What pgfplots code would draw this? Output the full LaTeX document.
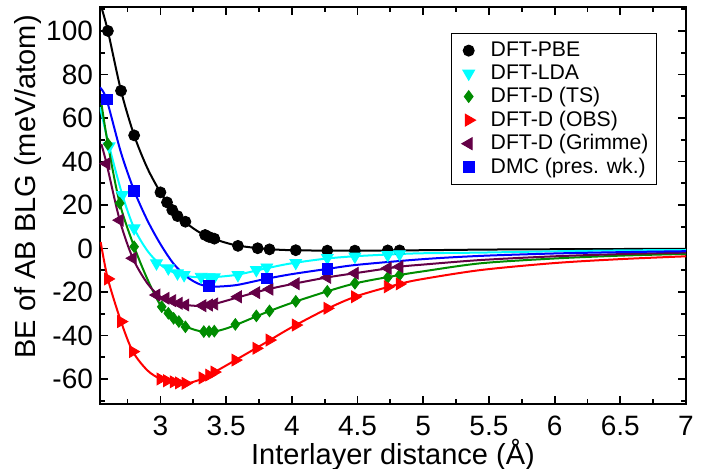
\documentclass[border=0pt]{standalone}
\usepackage{pgfplots}
\pgfplotsset{compat=1.18}
\usepackage{fontspec}
\setmainfont{Liberation Sans}
\definecolor{cyanc}{RGB}{0,255,255}
\definecolor{greenc}{RGB}{0,140,0}
\definecolor{purplec}{RGB}{100,0,70}
\definecolor{bluec}{RGB}{0,0,255}
\definecolor{redc}{RGB}{255,0,0}
\begin{document}
\begin{tikzpicture}
\begin{axis}[name=ax, scale only axis, width=293pt, height=198.5pt,
  xmin=2.54, xmax=7, ymin=-71.5, ymax=111,
  xtick={3,3.5,4,4.5,5,5.5,6,6.5,7},
  minor xtick={2.75,3.25,3.75,4.25,4.75,5.25,5.75,6.25,6.75},
  ytick={-60,-40,-20,0,20,40,60,80,100},
  minor ytick={-70,-50,-30,-10,10,30,50,70,90,110},
  tick align=inside, major tick length=4.2pt, minor tick length=2.4pt,
  axis line style={line width=1pt}, every tick/.style={line width=0.9pt, black},
  /pgf/number format/assume math mode=true,
  tick label style={font=\fontsize{14}{16}\selectfont},
  xticklabel style={yshift=-2.5pt},
  label style={font=\fontsize{14.5}{17}\selectfont},
  xlabel={Interlayer distance (Å)},
  ylabel={BE of AB BLG (meV/atom)},
  xlabel style={at={(axis description cs:0.5,-0.128)}, anchor=center},
  ylabel style={at={(axis description cs:-0.123,0.547)}, anchor=center},
  legend style={at={(0.9505,0.9337)}, anchor=north east, draw=black, line width=0.5pt,
    font=\fontsize{10.6}{12.5}\selectfont, cells={anchor=west}, row sep=-1.4pt,
    inner xsep=2pt, inner ysep=2pt},
  legend cell align=left,
  legend image code/.code={\path[draw=none,fill=none] (0pt,0pt) -- (15.5pt,0pt); \draw[#1] plot coordinates {(6.5pt,0pt)};},
]
% ---------- DFT-PBE ----------
\addplot[black, line width=1pt, smooth, forget plot] coordinates {
(2.55,111)(2.6,100)(2.7,72.5)(2.8,52)(2.9,37)(3.0,25.8)(3.1,17)(3.2,11.5)(3.3,7.3)(3.4,4.6)(3.5,2.6)(3.6,1.2)(3.8,-0.2)(4.0,-0.8)(4.3,-1.0)(4.6,-1.0)(5.0,-0.8)(5.5,-0.5)(6.0,-0.35)(6.5,-0.25)(7.0,-0.15)};
\addplot[only marks, mark=*, mark size=2.75pt, black] coordinates {
(2.6,100)(2.7,72.5)(2.8,52)(3.0,25.8)(3.05,21.2)(3.09,17.7)(3.13,14.9)(3.19,12.3)(3.34,6.2)(3.37,5.3)(3.41,4.5)(3.59,1.2)(3.74,0.1)(3.83,-0.4)(4.03,-0.8)(4.27,-1.0)(4.48,-1.0)(4.73,-0.9)(4.82,-0.9)};
\addlegendentry{DFT-PBE}
% ---------- DFT-LDA ----------
\addplot[cyanc, line width=1pt, smooth, forget plot] coordinates {
(2.54,65)(2.61,47)(2.71,24.6)(2.8,9.3)(2.9,-1)(3.0,-7.5)(3.1,-11)(3.2,-12.7)(3.3,-13.3)(3.4,-13.2)(3.5,-12.7)(3.6,-11.9)(3.8,-9.2)(4.0,-6.8)(4.27,-4.6)(4.5,-3.5)(4.8,-2.6)(5.0,-2.2)(5.44,-1.9)(6.0,-1.3)(6.5,-0.9)(7.0,-0.7)};
\addplot[only marks, mark=triangle*, mark options={rotate=180}, mark size=3.4pt, cyanc] coordinates {
(2.61,47)(2.71,24.6)(2.80,9.3)(2.97,-6.8)(3.06,-9.1)(3.13,-11.4)(3.18,-12.2)(3.31,-13)(3.37,-13.2)(3.41,-13.2)(3.59,-12.2)(3.73,-9.9)(3.81,-8.7)(4.03,-6.6)(4.27,-4.3)(4.48,-3.7)(4.73,-3.0)(4.82,-2.6)};
\addlegendentry{DFT-LDA}
% ---------- DFT-D (TS) ----------
\addplot[greenc, line width=1pt, smooth, forget plot] coordinates {
(2.55,67)(2.6,48)(2.69,20.8)(2.8,0.8)(2.9,-14)(3.0,-26)(3.1,-32)(3.2,-36)(3.3,-38)(3.4,-38.3)(3.5,-36.8)(3.6,-34.5)(3.8,-29.5)(4.0,-25)(4.27,-19.7)(4.5,-15.8)(4.82,-12.2)(5.0,-10.5)(5.44,-6.8)(6.0,-4.6)(6.5,-3.3)(7.0,-2.5)};
\addplot[only marks, mark=diamond*, mark size=2.9pt, greenc] coordinates {
(2.6,48)(2.69,20.8)(2.80,0.8)(3.01,-26.8)(3.06,-29.8)(3.10,-32.1)(3.14,-33.6)(3.19,-36)(3.33,-38.2)(3.37,-38.2)(3.41,-38)(3.57,-34.9)(3.73,-31)(3.83,-28.7)(4.03,-24.3)(4.27,-19.7)(4.48,-16)(4.73,-13.3)(4.82,-12.2)};
\addlegendentry{DFT-D (TS)}
% ---------- DFT-D (OBS) ----------
\addplot[redc, line width=1pt, smooth, forget plot] coordinates {
(2.545,3)(2.6,-14)(2.7,-33.6)(2.79,-47.4)(2.9,-56)(3.0,-60)(3.1,-61.5)(3.2,-62)(3.3,-60.3)(3.4,-57.2)(3.5,-53.8)(3.6,-50.3)(3.8,-43.3)(4.0,-36.2)(4.27,-27.7)(4.5,-21.8)(4.82,-16.3)(5.0,-14)(5.44,-9.9)(6.0,-6.7)(6.5,-4.9)(7.0,-3.6)};
\addplot[only marks, mark=triangle*, mark options={rotate=-90}, mark size=3.4pt, redc] coordinates {
(2.60,-14)(2.70,-33.6)(2.79,-47.4)(3.0,-60)(3.05,-60.8)(3.10,-61.3)(3.14,-61.8)(3.19,-62)(3.32,-59.5)(3.37,-58.2)(3.41,-56.8)(3.57,-51.3)(3.73,-45.9)(3.83,-42.1)(4.03,-35.2)(4.27,-27.5)(4.48,-22.2)(4.73,-17.6)(4.82,-16.3)};
\addlegendentry{DFT-D (OBS)}
% ---------- DFT-D (Grimme) ----------
\addplot[purplec, line width=1pt, smooth, forget plot] coordinates {
(2.55,48)(2.59,39)(2.69,13)(2.79,-4.5)(2.9,-16)(3.0,-22.2)(3.1,-24.6)(3.2,-26)(3.3,-26.4)(3.4,-25.7)(3.6,-22.3)(3.8,-19)(4.0,-16.4)(4.27,-13.3)(4.5,-11.2)(4.82,-8.4)(5.0,-7.4)(5.44,-5.3)(6.0,-3.6)(6.5,-2.6)(7.0,-1.9)};
\addplot[only marks, mark=triangle*, mark options={rotate=90}, mark size=3.4pt, purplec] coordinates {
(2.59,39)(2.69,13)(2.79,-4.5)(2.97,-21.4)(3.04,-22.9)(3.09,-24)(3.14,-25.2)(3.19,-26)(3.32,-26.3)(3.37,-26)(3.41,-25.5)(3.59,-22.2)(3.73,-20.3)(3.83,-18.7)(4.03,-16.2)(4.27,-13.3)(4.48,-11.4)(4.73,-9.1)(4.82,-8.4)};
\addlegendentry{DFT-D (Grimme)}
% ---------- DMC ----------
\addplot[bluec, line width=1pt, smooth, forget plot] coordinates {
(2.54,74)(2.59,68.5)(2.7,44)(2.8,26.6)(2.9,13)(3.0,2)(3.1,-7)(3.2,-13)(3.3,-16.5)(3.4,-17.5)(3.5,-17.3)(3.6,-16.6)(3.8,-14)(4.0,-11.8)(4.27,-9.4)(4.5,-7.5)(5.0,-4.9)(5.44,-3.4)(6.0,-2.3)(6.5,-1.7)(7.0,-1.25)};
\addplot[only marks, mark=square*, mark size=2.7pt, bluec] coordinates {
(2.59,68.5)(2.80,26.6)(3.37,-17.3)(3.81,-13.8)(4.27,-9.4)};
\addlegendentry{DMC (pres. wk.)}
\end{axis}
\pgfresetboundingbox
\path ([xshift=-50pt,yshift=-32pt]ax.south west) rectangle ([xshift=10.5pt,yshift=3.5pt]ax.north east);
\end{tikzpicture}
\end{document}
